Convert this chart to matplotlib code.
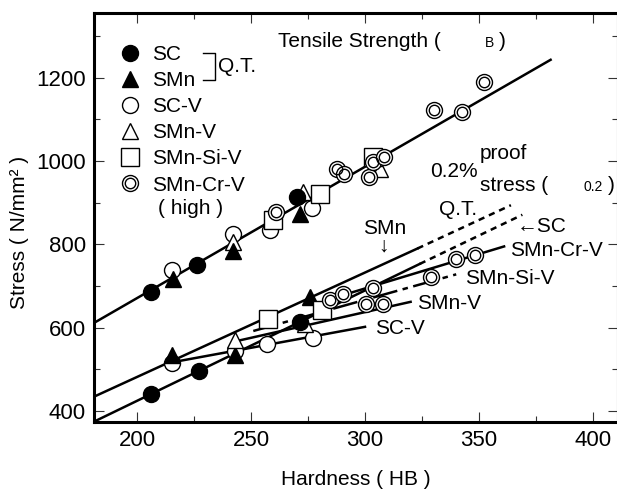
import matplotlib.pyplot as plt
from matplotlib.lines import Line2D

plt.rcParams['font.family'] = ['Liberation Sans', 'DejaVu Sans']
plt.rcParams['font.size'] = 15

# --- tensile strength (sigma B) ---
ts_sc_x = [206, 226.4, 270]
ts_sc_y = [686, 750, 914]
ts_smn_x = [216, 242.2, 271.5]
ts_smn_y = [718, 785, 874]
ts_scv_x = [215.5, 242.2, 258.3, 276.6]
ts_scv_y = [738, 825, 834, 887]
ts_smnv_x = [242.2, 273, 306.6]
ts_smnv_y = [806, 926, 982]
ts_smnsiv_x = [259.5, 280.3, 303.4]
ts_smnsiv_y = [858, 922, 1010]
ts_smncrv_x = [261, 287.6, 290.8, 301.9, 303.6, 308.3, 330.3, 342.4, 352.3]
ts_smncrv_y = [878, 982, 970, 962, 998, 1009, 1122, 1118, 1190]
ts_line_x = [181, 381.4]
ts_line_y = [611, 1243]

# --- 0.2% proof stress ---
ps_sc_x = [206, 227.3, 271.5]
ps_sc_y = [440, 497, 614]
ps_smn_x = [215.5, 243, 275.9]
ps_smn_y = [534, 534, 674]
ps_scv_x = [215.5, 243, 257, 277.3]
ps_scv_y = [514, 545, 562, 575]
ps_smnv_x = [243, 273.7]
ps_smnv_y = [570, 610]
ps_smnsiv_x = [257.6, 281]
ps_smnsiv_y = [622, 642]
ps_smncrv_x = [284.6, 290.5, 300.5, 303.5, 308, 328.8, 340, 348.2]
ps_smncrv_y = [666, 682, 658, 696, 658, 722, 766, 774]

# fitted lines (solid part, then dotted extension)
smn_qt_x = [181, 323]
smn_qt_y = [434, 790]
smn_qt_ext_x = [323, 364]
smn_qt_ext_y = [790, 894]
sc_qt_x = [181, 324]
sc_qt_y = [374, 753]
sc_qt_ext_x = [324, 369]
sc_qt_ext_y = [753, 871]
scv_line_x = [215.5, 300]
scv_line_y = [517, 602]
smnv_line_x = [243, 320]
smnv_line_y = [567, 662]
smnsiv_line_x = [251, 340]
smnsiv_line_y = [592, 728]
smncrv_line_x = [283, 361]
smncrv_line_y = [666, 795]

fig = plt.figure(figsize=(6.17, 4.91), dpi=100)
ax = fig.add_axes([94 / 617, 69.3 / 491, 524 / 617, 408.4 / 491])

lw = 1.8
ms = 11.5
mew = 1.0

# lines
ax.plot(ts_line_x, ts_line_y, color='black', lw=lw, zorder=2)
ax.plot(smn_qt_x, smn_qt_y, color='black', lw=lw, zorder=2)
ax.plot(smn_qt_ext_x, smn_qt_ext_y, color='black', lw=lw, ls=(0, (2.5, 2)), zorder=2)
ax.plot(sc_qt_x, sc_qt_y, color='black', lw=lw, zorder=2)
ax.plot(sc_qt_ext_x, sc_qt_ext_y, color='black', lw=lw, ls=(0, (2.5, 2)), zorder=2)
ax.plot(scv_line_x, scv_line_y, color='black', lw=lw, zorder=2)
ax.plot(smnv_line_x, smnv_line_y, color='black', lw=lw, zorder=2)
ax.plot(smnsiv_line_x, smnsiv_line_y, color='black', lw=lw, ls=(0, (10, 2.2, 2.2, 2.2)), zorder=2)
ax.plot(smncrv_line_x, smncrv_line_y, color='black', lw=lw, zorder=2)


def filled_circle(x, y):
    ax.plot(x, y, 'o', ms=ms, color='black', ls='none', zorder=3)


def filled_tri(x, y):
    ax.plot(x, y, '^', ms=12, color='black', ls='none', zorder=3)


def open_circle(x, y):
    ax.plot(x, y, 'o', ms=ms, mfc='white', mec='black', mew=mew, ls='none', zorder=3)


def open_tri(x, y):
    ax.plot(x, y, '^', ms=12, mfc='white', mec='black', mew=mew, ls='none', zorder=3)


def open_square(x, y):
    ax.plot(x, y, 's', ms=13, mfc='white', mec='black', mew=mew, ls='none', zorder=3)


def double_circle(x, y):
    ax.plot(x, y, 'o', ms=ms, mfc='white', mec='black', mew=mew, ls='none', zorder=3)
    ax.plot(x, y, 'o', ms=7.5, mfc='none', mec='black', mew=mew, ls='none', zorder=3)


for fn, xs, ys in [
    (open_circle, ts_scv_x, ts_scv_y), (open_tri, ts_smnv_x, ts_smnv_y),
    (filled_tri, ts_smn_x, ts_smn_y), (filled_circle, ts_sc_x, ts_sc_y),
    (open_square, ts_smnsiv_x, ts_smnsiv_y), (double_circle, ts_smncrv_x, ts_smncrv_y),
    (open_circle, ps_scv_x, ps_scv_y), (filled_tri, ps_smn_x, ps_smn_y),
    (open_tri, ps_smnv_x, ps_smnv_y), (filled_circle, ps_sc_x, ps_sc_y),
    (open_square, ps_smnsiv_x, ps_smnsiv_y), (double_circle, ps_smncrv_x, ps_smncrv_y),
]:
    fn(xs, ys)

# legend
handles = [
    Line2D([], [], marker='o', ms=ms, color='black', ls='none'),
    Line2D([], [], marker='^', ms=12, color='black', ls='none'),
    Line2D([], [], marker='o', ms=ms, mfc='white', mec='black', mew=mew, ls='none'),
    Line2D([], [], marker='^', ms=12, mfc='white', mec='black', mew=mew, ls='none'),
    Line2D([], [], marker='s', ms=13, mfc='white', mec='black', mew=mew, ls='none'),
    (Line2D([], [], marker='o', ms=ms, mfc='white', mec='black', mew=mew, ls='none'),
     Line2D([], [], marker='o', ms=7.5, mfc='none', mec='black', mew=mew, ls='none')),
]
labels = ['SC', 'SMn', 'SC-V', 'SMn-V', 'SMn-Si-V', 'SMn-Cr-V']
ax.legend(handles, labels, loc='upper left', bbox_to_anchor=(0.049, 0.922),
          frameon=False, borderpad=0, borderaxespad=0, handlelength=1.0,
          handletextpad=0.55, labelspacing=0.34, fontsize=15)
ax.text(209.2, 886, '( high )', ha='left', va='center', fontsize=15)

# Q.T. bracket
ax.plot([229, 234.3, 234.3, 229], [1259, 1259, 1195, 1195], color='black', lw=1.0)
ax.text(235.5, 1227, 'Q.T.', ha='left', va='center', fontsize=15)

# annotations
ax.text(261.8, 1286, 'Tensile Strength (', ha='left', va='center', fontsize=15)
ax.text(352.6, 1284, 'B', ha='left', va='center', fontsize=10)
ax.text(358.6, 1286, ')', ha='left', va='center', fontsize=15)

ax.text(339, 974, '0.2%', ha='center', va='center', fontsize=15)
ax.text(350.4, 1019, 'proof', ha='left', va='center', fontsize=15)
ax.text(350.4, 942, 'stress (', ha='left', va='center', fontsize=15)
ax.text(396.0, 937, '0.2', ha='left', va='center', fontsize=10)
ax.text(406.6, 942, ')', ha='left', va='center', fontsize=15)

ax.text(340.6, 884, 'Q.T.', ha='center', va='center', fontsize=15)
ax.text(366.5, 842, '\u2190SC', ha='left', va='center', fontsize=15)
ax.text(308.8, 839, 'SMn', ha='center', va='center', fontsize=15)
ax.text(307.9, 795, '\u2193', ha='center', va='center', fontsize=15)
ax.text(363.6, 786, 'SMn-Cr-V', ha='left', va='center', fontsize=15)
ax.text(343.9, 719, 'SMn-Si-V', ha='left', va='center', fontsize=15)
ax.text(322.7, 658, 'SMn-V', ha='left', va='center', fontsize=15)
ax.text(304.4, 598, 'SC-V', ha='left', va='center', fontsize=15)

# axes styling
ax.set_xlim(181.14, 410.96)
ax.set_ylim(374.3, 1354.6)
ax.set_xticks([200, 250, 300, 350, 400])
ax.set_xticks([225, 275, 325, 375], minor=True)
ax.set_yticks([400, 600, 800, 1000, 1200])
ax.set_yticks([500, 700, 900, 1100, 1300], minor=True)
ax.tick_params(which='both', direction='in', top=True, right=True, color='#333333')
ax.tick_params(which='major', length=7.5, width=0.8, labelsize=16, pad=6)
ax.tick_params(which='minor', length=4.5, width=0.8)
for s in ax.spines.values():
    s.set_linewidth(2.2)

ax.set_xlabel('Hardness ( HB )', fontsize=15, labelpad=14)
fig.text(20 / 617, 1 - 232 / 491, 'Stress ( N/mm\u00b2 )', rotation=90,
         ha='center', va='center', fontsize=15)

fig.savefig('out.png', dpi=100)
